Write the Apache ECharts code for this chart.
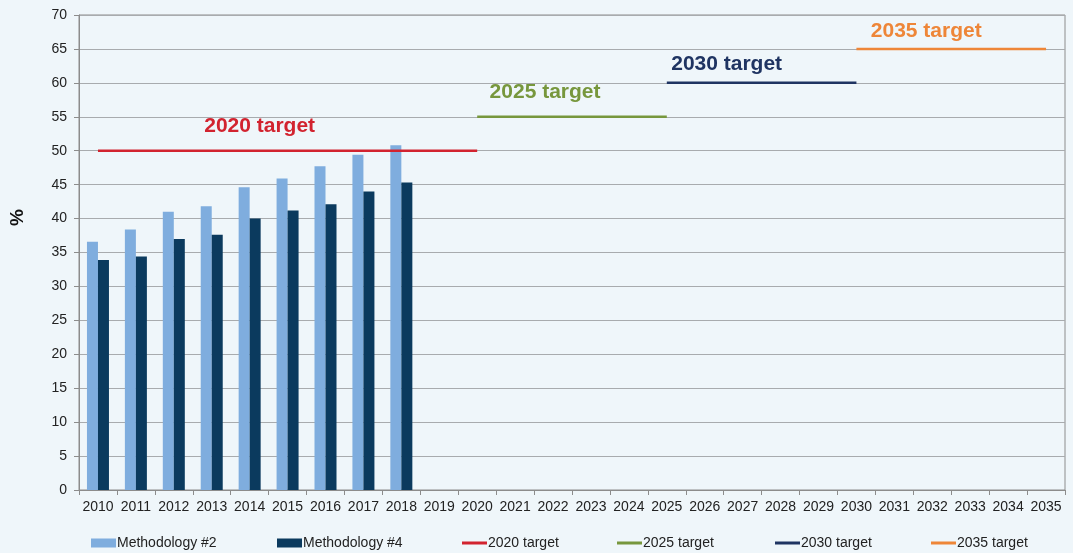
<!DOCTYPE html>
<html>
<head>
<meta charset="utf-8">
<title>Targets</title>
<script src="https://cdn.jsdelivr.net/npm/echarts@6/dist/echarts.min.js"></script>
<style>
html, body { margin: 0; padding: 0; background: #eff6fa; }
#chart { width: 1073px; height: 553px; }
</style>
</head>
<body>
<div id="chart"></div>
<script>
// data
var years = ["2010", "2011", "2012", "2013", "2014", "2015", "2016", "2017", "2018", "2019",
    "2020", "2021", "2022", "2023", "2024", "2025", "2026", "2027", "2028", "2029",
    "2030", "2031", "2032", "2033", "2034", "2035"];
var methodology2 = [36.6, 38.4, 41.0, 41.8, 44.6, 45.9, 47.7, 49.4, 50.8];
var methodology4 = [33.9, 34.4, 37.0, 37.6, 40.0, 41.2, 42.1, 44.0, 45.3];
// each target: value, first and last year it is drawn over
var targetNames = ["2020 target", "2025 target", "2030 target", "2035 target"];
var targetValues = [50, 55, 60, 65];
var targetFrom = ["2010", "2020", "2025", "2030"];
var targetTo = ["2020", "2025", "2030", "2035"];
var targetLabelAt = ["2014", "2022", "2027", "2032"];

var targetColors = ["#d2232f", "#77973d", "#1f3462", "#ee8638"];
// label placement around the chosen point
var labelOffsets = [[10, 0], [-8, 0], [-16, 0], [-6, 0]];
var labelDistance = [14, 14, 8, 7];
// x of each legend entry
var legendLeft = [86, 272, 457, 612, 770, 926];

var font = "Liberation Sans, Arial, sans-serif";

function targetData(i) {
    var a = years.indexOf(targetFrom[i]), b = years.indexOf(targetTo[i]);
    return years.map(function(y, k) {
        return (k < a || k > b) ? null : targetValues[i];
    });
}

var series = [
    {
        name: "Methodology #2",
        type: "bar",
        barWidth: 11,
        barGap: "0%",
        itemStyle: { color: "#7fadde" },
        data: methodology2
    },
    {
        name: "Methodology #4",
        type: "bar",
        barWidth: 11,
        barGap: "0%",
        itemStyle: { color: "#0b3a5e" },
        data: methodology4
    }
];
targetNames.forEach(function(name, i) {
    series.push({
        name: name,
        type: "line",
        symbol: "none",
        silent: true,
        lineStyle: { color: targetColors[i], width: 2.5 },
        itemStyle: { color: targetColors[i] },
        data: targetData(i),
        markPoint: {
            silent: true,
            symbol: "circle",
            symbolSize: 0,
            data: [{
                coord: [targetLabelAt[i], targetValues[i]],
                label: {
                    show: true,
                    position: "top",
                    distance: labelDistance[i],
                    offset: labelOffsets[i],
                    formatter: name,
                    color: targetColors[i],
                    fontSize: 21,
                    fontWeight: "bold",
                    fontFamily: font
                }
            }]
        }
    });
});

var legendNames = ["Methodology #2", "Methodology #4"].concat(targetNames);
var legends = legendNames.map(function(name, i) {
    var isBar = i < 2;
    return {
        left: legendLeft[i],
        top: 531,
        itemWidth: 25,
        itemHeight: isBar ? 9 : 3,
        itemGap: 0,
        data: [{ name: name, icon: "rect" }],
        textStyle: {
            fontSize: 14,
            color: "#222",
            padding: [0, 0, 0, -4],
            fontFamily: font
        }
    };
});

var chart = echarts.init(document.getElementById("chart"));
var option = {
    backgroundColor: "#eff6fa",
    animation: false,
    textStyle: { fontFamily: font },
    grid: {
        left: 79,
        right: 8,
        top: 15,
        bottom: 63,
        show: true,
        borderColor: "#8c8c8c",
        borderWidth: 1
    },
    legend: legends,
    xAxis: {
        type: "category",
        data: years,
        boundaryGap: true,
        axisLine: { lineStyle: { color: "#8c8c8c", width: 1 } },
        axisTick: { show: true, length: 5, alignWithLabel: false, lineStyle: { color: "#8c8c8c" } },
        axisLabel: { interval: 0, fontSize: 14, color: "#222", margin: 10 },
        splitLine: { show: false }
    },
    yAxis: {
        type: "value",
        min: 0,
        max: 70,
        interval: 5,
        name: "%",
        nameLocation: "middle",
        nameGap: 52,
        nameRotate: 90,
        nameTextStyle: { fontSize: 19, fontWeight: "bold", color: "#111", padding: [0, 0, 0, 70] },
        axisLine: { show: true, lineStyle: { color: "#8c8c8c" } },
        axisTick: { show: true, length: 5, lineStyle: { color: "#8c8c8c" } },
        axisLabel: { fontSize: 14, color: "#222", margin: 12 },
        splitLine: { show: true, lineStyle: { color: "#a8abae", width: 1 } }
    },
    series: series
};
chart.setOption(option);
</script>
</body>
</html>
